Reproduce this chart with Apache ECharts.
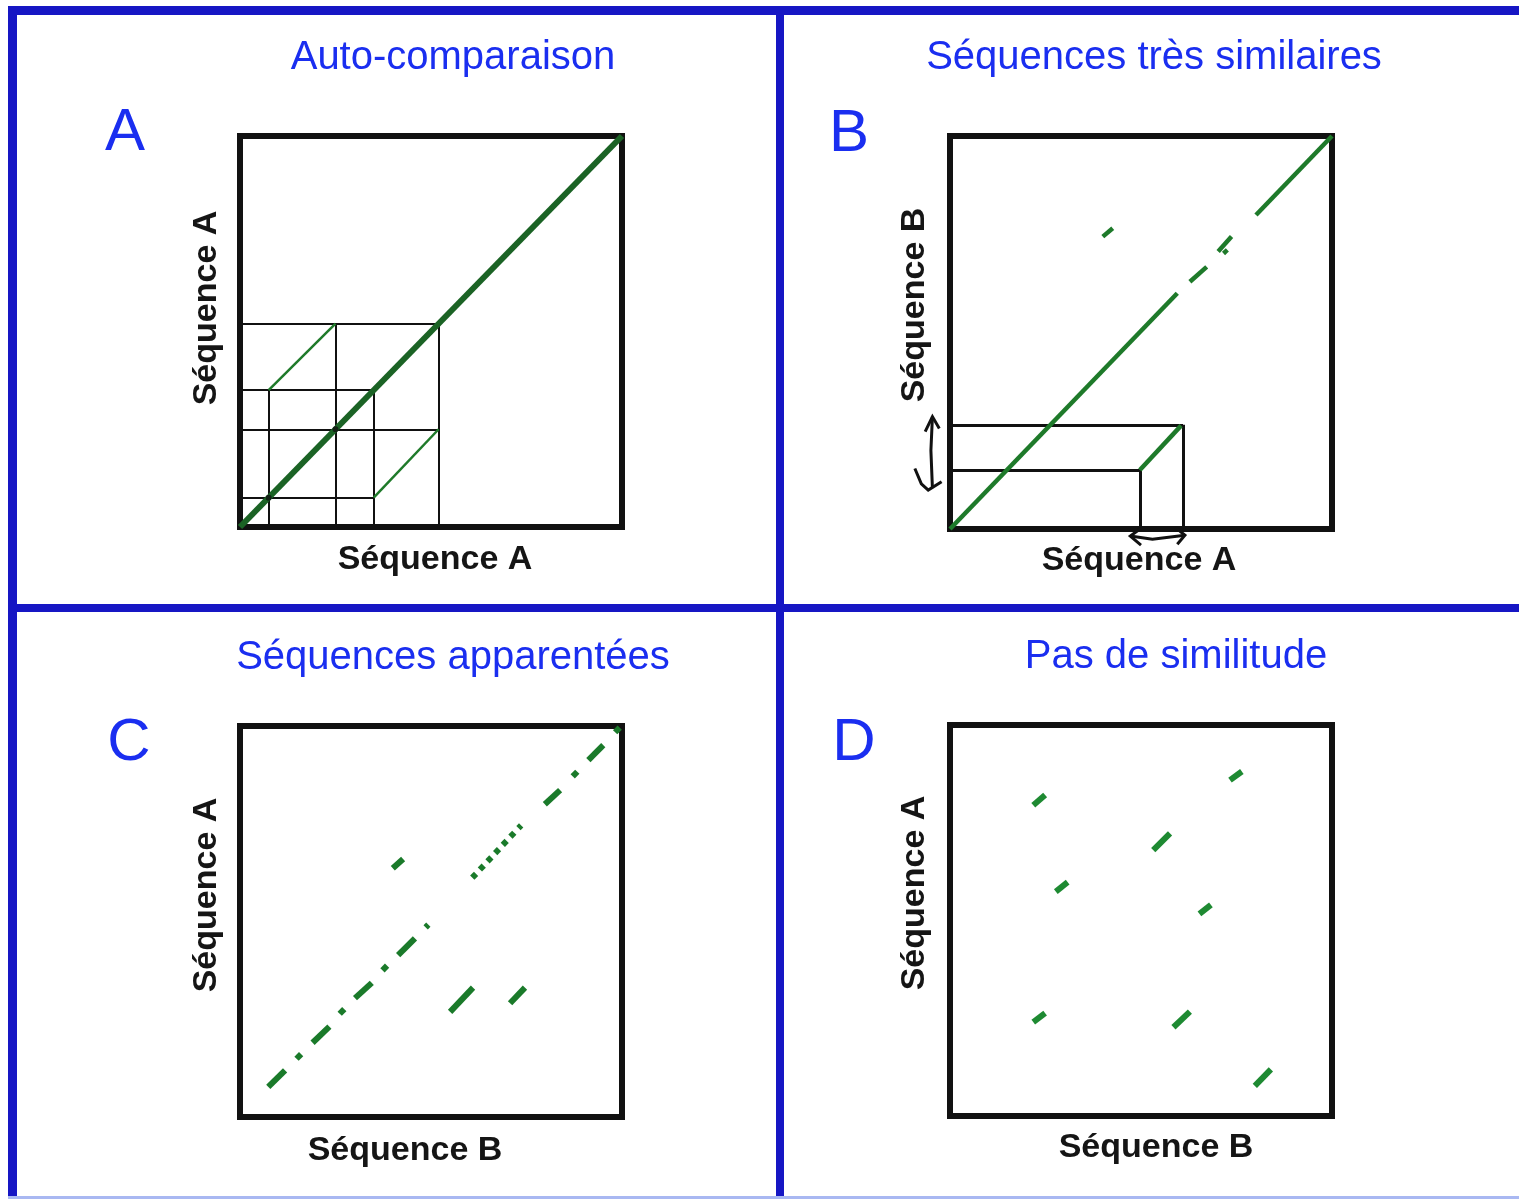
<!DOCTYPE html>
<html>
<head>
<meta charset="utf-8">
<script src="https://cdn.jsdelivr.net/npm/echarts@6/dist/echarts.min.js"></script>
<style>
  html, body { margin: 0; padding: 0; background: #ffffff; }
  #chart { width: 1519px; height: 1199px; }
</style>
</head>
<body>
<div id="chart"></div>
<script>
// ---------- DATA (segments as [x1, y1, x2, y2] in sequence positions 0..100) ----------
const panelTitles = ['Auto-comparaison', 'Séquences très similaires', 'Séquences apparentées', 'Pas de similitude'];
const panelLetters = ['A', 'B', 'C', 'D'];
const xAxisNames = ['Séquence A', 'Séquence A', 'Séquence B', 'Séquence B'];
const yAxisNames = ['Séquence A', 'Séquence B', 'Séquence A', 'Séquence A'];

// Panel A : self comparison
const panelA_diagonal = [[0, 0, 100, 100]];
const panelA_repeats = [[7.5, 35, 25, 52], [35, 7.5, 52, 25]];
const panelA_guides = [
  [0, 7.5, 35, 7.5], [0, 25, 52, 25], [0, 35, 35, 35], [0, 52, 52, 52],
  [7.5, 0, 7.5, 35], [25, 0, 25, 52], [35, 0, 35, 35], [52, 0, 52, 52]
];
const panelA_dots = [[7.5, 7.5], [25, 25]];

// Panel B : very similar sequences
const panelB_matches = [
  [0, 0, 59.5, 60], [62.8, 62.9, 67.2, 66.7], [70.2, 70.6, 73.7, 74.4],
  [80.1, 79.9, 100, 100], [40, 74.4, 42.6, 76.5], [49.7, 15, 60.5, 26.3],
  [71.6, 70.1, 72.6, 71.0]
];
const panelB_guides = [
  [0, 26.5, 61, 26.5], [0, 15, 49.7, 15], [49.7, 15, 49.7, 0], [61, 26.5, 61, 0]
];
const panelB_arrows = [
  [[-6.5, 24.8], [-4.6, 28.6], [-2.8, 25.6]],
  [[-4.6, 28.6], [-5.0, 20], [-4.6, 10.4]],
  [[-9.2, 15.4], [-7.5, 11.5], [-5.7, 9.9], [-2.2, 12]],
  [[50, 0.2], [47.2, -1.8], [50, -4.1]],
  [[47.2, -1.8], [53, -2.6], [61.5, -1.6]],
  [[59, 0.4], [61.5, -1.6], [59.5, -3.9]]
];

// Panel C : related sequences
const panelC_matches = [
  [7.4, 7.7, 11.8, 11.9], [14.8, 14.9, 16.0, 16.1], [19, 19, 23.4, 23.1],
  [26.1, 26.4, 27.3, 27.6], [30.1, 30.4, 34.5, 34.3], [37.3, 37.5, 38.5, 38.7],
  [41.4, 41.4, 45.8, 45.7], [48.6, 48.5, 49.3, 49.2], [40, 63.6, 42.7, 66],
  [60.8, 61.2, 61.8, 62.2], [62.8, 63.3, 63.8, 64.3], [64.8, 65.4, 65.8, 66.4],
  [66.8, 67.5, 67.8, 68.5], [68.8, 69.6, 69.8, 70.6], [70.8, 71.7, 71.8, 72.7],
  [72.9, 73.9, 73.6, 74.6],
  [79.8, 80, 83.8, 83.6], [87.1, 87.1, 88.3, 88.3], [91.2, 91.3, 95.1, 95.1],
  [98.2, 98.4, 99.4, 99.6], [55, 26.9, 61, 33.1], [70.7, 29.1, 74.6, 33.1]
];

// Panel D : no similarity
const panelD_matches = [
  [21.8, 79.5, 24.9, 82.1], [73.3, 85.9, 76.4, 88.1], [53.2, 68.0, 57.6, 72.3],
  [27.7, 57.4, 30.8, 59.8], [65.3, 51.7, 68.3, 54.0], [21.8, 24.0, 24.9, 26.3],
  [58.5, 22.7, 62.8, 26.7], [79.8, 7.7, 84.0, 11.9]
];

// ---------- LAYOUT / STYLE ----------
const FONT = "'Liberation Sans', Arial, Helvetica, sans-serif";
const BLUE_TEXT = '#1a2ef0';
const BLUE_FRAME = '#1616c4';
const grids = [
  { left: 240, top: 136, width: 382, height: 391 },
  { left: 950, top: 136, width: 382, height: 393 },
  { left: 240, top: 726, width: 382, height: 391 },
  { left: 950, top: 725, width: 382, height: 391 }
];
const titlePos = [[453, 38], [1154, 38], [453, 638], [1176, 637]];
const letterPos = [[125, 103], [849, 104], [129, 713], [854, 713]];
const xNamePad = [[0, 0, 0, 8], [0, 4, 0, 0], [0, 52, 0, 0], [0, 0, 0, 30]];
const xNameGap = [16, 15, 16.5, 15];
const yNamePad = [[0, 0, 0, 47], [0, 0, 0, 55], [0, 0, 0, 53], [0, 0, 0, 55]];
const yNameGap = [16, 18, 16, 18];

function seg(arr) {
  return arr.map(s => ({ coords: [[s[0], s[1]], [s[2], s[3]]] }));
}
function lineSeries(idx, arr, color, width, extra) {
  return Object.assign({
    type: 'lines', coordinateSystem: 'cartesian2d',
    xAxisIndex: idx, yAxisIndex: idx,
    lineStyle: { color: color, width: width, opacity: 1, cap: 'butt' },
    data: seg(arr), silent: true, z: 3
  }, extra || {});
}

const option = {
  animation: false,
  backgroundColor: '#ffffff',
  title: panelTitles.map((t, i) => ({
    text: t, left: titlePos[i][0], top: titlePos[i][1], textAlign: 'center', padding: 0,
    textStyle: { fontFamily: FONT, fontSize: 40, fontWeight: 'normal', color: BLUE_TEXT }
  })).concat(panelLetters.map((t, i) => ({
    text: t, left: letterPos[i][0], top: letterPos[i][1], textAlign: 'center', padding: 0,
    textStyle: { fontFamily: FONT, fontSize: 60, fontWeight: 'normal', color: BLUE_TEXT }
  }))),
  grid: grids.map(g => Object.assign({
    show: true, borderColor: '#111111', borderWidth: 6, backgroundColor: 'transparent', containLabel: false
  }, g)),
  xAxis: grids.map((g, i) => ({
    gridIndex: i, type: 'value', min: 0, max: 100,
    axisLine: { show: false }, axisTick: { show: false }, axisLabel: { show: false }, splitLine: { show: false },
    name: xAxisNames[i], nameLocation: 'middle', nameGap: xNameGap[i],
    nameTextStyle: { fontFamily: FONT, fontSize: 34, fontWeight: 'bold', color: '#151515', padding: xNamePad[i] }
  })),
  yAxis: grids.map((g, i) => ({
    gridIndex: i, type: 'value', min: 0, max: 100,
    axisLine: { show: false }, axisTick: { show: false }, axisLabel: { show: false }, splitLine: { show: false },
    name: yAxisNames[i], nameLocation: 'middle', nameGap: yNameGap[i],
    nameTextStyle: { fontFamily: FONT, fontSize: 34, fontWeight: 'bold', color: '#151515', padding: yNamePad[i] }
  })),
  graphic: [
    { type: 'rect', shape: { x: 8, y: 6, width: 1511, height: 9 }, style: { fill: BLUE_FRAME }, silent: true },
    { type: 'rect', shape: { x: 8, y: 6, width: 9, height: 1193 }, style: { fill: BLUE_FRAME }, silent: true },
    { type: 'rect', shape: { x: 776, y: 6, width: 8, height: 1193 }, style: { fill: BLUE_FRAME }, silent: true },
    { type: 'rect', shape: { x: 8, y: 604, width: 1511, height: 8 }, style: { fill: BLUE_FRAME }, silent: true },
    { type: 'rect', shape: { x: 8, y: 1196, width: 1511, height: 3 }, style: { fill: '#a9b8f2' }, silent: true }
  ],
  series: [
    lineSeries(0, panelA_guides, '#111111', 2),
    lineSeries(0, panelA_diagonal, '#1b6325', 6),
    lineSeries(0, panelA_repeats, '#1f7a2a', 2.5),
    { type: 'scatter', xAxisIndex: 0, yAxisIndex: 0, data: panelA_dots, symbolSize: 6,
      itemStyle: { color: '#111111' }, silent: true, z: 4 },
    lineSeries(1, panelB_guides, '#111111', 3),
    lineSeries(1, panelB_matches, '#1e7a2a', 4.5),
    Object.assign(lineSeries(1, [], '#111111', 3, { polyline: true, clip: false }), {
      data: panelB_arrows.map(p => ({ coords: p }))
    }),
    lineSeries(2, panelC_matches, '#1a7a2a', 6),
    lineSeries(3, panelD_matches, '#1e8a32', 6)
  ]
};

const chart = echarts.init(document.getElementById('chart'), null, { renderer: 'canvas' });
chart.setOption(option);
</script>
</body>
</html>
